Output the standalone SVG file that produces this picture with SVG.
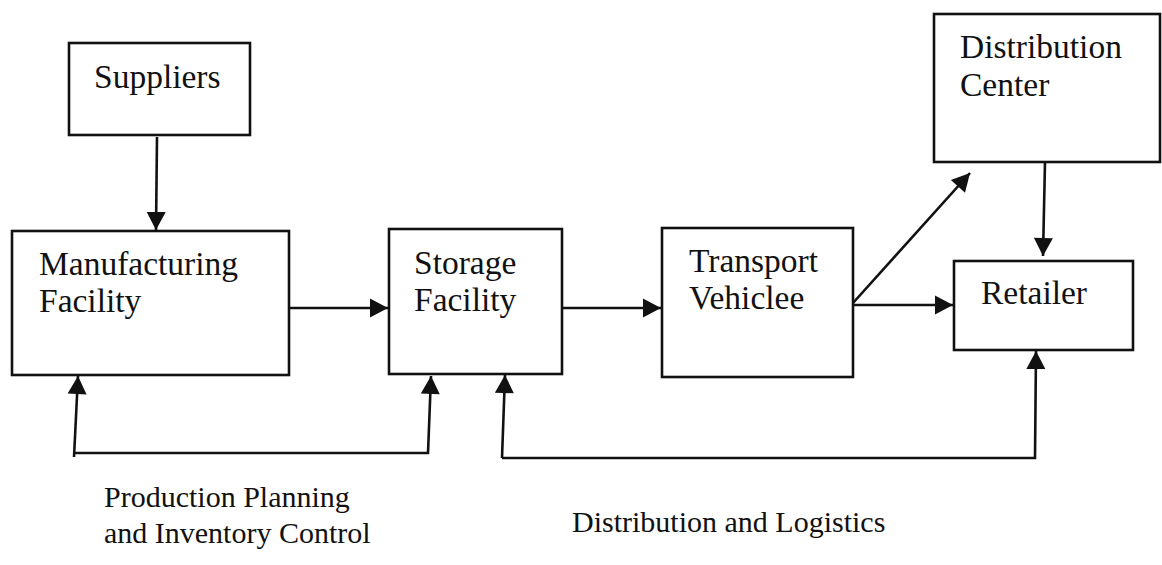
<svg xmlns="http://www.w3.org/2000/svg" width="1162" height="565" viewBox="0 0 1162 565">
<style>
.box{fill:#fff;stroke:#111;stroke-width:2.6}
.t{font-family:"Liberation Serif","Times New Roman",serif;font-size:33.5px;fill:#111}
.lb{font-family:"Liberation Serif","Times New Roman",serif;font-size:30px;fill:#111}
.c{fill:none;stroke:#111;stroke-width:2.6}
</style>
<defs>
<marker id="ah" markerUnits="userSpaceOnUse" markerWidth="20" markerHeight="20" viewBox="0 0 20 20" refX="19" refY="10" orient="auto">
<path d="M1,0.5 L19,10 L1,19.5 Z" fill="#111"/>
</marker>
</defs>
<rect width="1162" height="565" fill="#fff"/>
<g id="suppliers"><rect class="box" x="69" y="43" width="181" height="92"/><text class="t" x="94" y="88">Suppliers</text></g>
<g id="manufacturing"><rect class="box" x="12" y="231" width="277" height="144"/><text class="t" x="39" y="275">Manufacturing</text><text class="t" x="39" y="312">Facility</text></g>
<g id="storage"><rect class="box" x="389" y="229" width="173" height="145"/><text class="t" x="414" y="274">Storage</text><text class="t" x="414" y="311">Facility</text></g>
<g id="transport"><rect class="box" x="662" y="228" width="191" height="149"/><text class="t" x="689" y="272">Transport</text><text class="t" x="689" y="309">Vehiclee</text></g>
<g id="distribution-center"><rect class="box" x="934" y="14" width="226" height="148"/><text class="t" x="960" y="58">Distribution</text><text class="t" x="960" y="96">Center</text></g>
<g id="retailer"><rect class="box" x="954" y="261" width="179" height="89"/><text class="t" x="981" y="304">Retailer</text></g>
<g id="connectors">
<line class="c" x1="157" y1="137" x2="156" y2="230" marker-end="url(#ah)"/>
<line class="c" x1="289" y1="308" x2="388" y2="308" marker-end="url(#ah)"/>
<line class="c" x1="562" y1="308" x2="661" y2="308" marker-end="url(#ah)"/>
<line class="c" x1="853" y1="305" x2="953" y2="305" marker-end="url(#ah)"/>
<line class="c" x1="853" y1="303" x2="970" y2="173" marker-end="url(#ah)"/>
<line class="c" x1="1045" y1="162" x2="1043" y2="256" marker-end="url(#ah)"/>
<line class="c" x1="74" y1="457" x2="78" y2="376" marker-end="url(#ah)"/>
<polyline class="c" points="75,453 428,453 431,376" marker-end="url(#ah)"/>
<line class="c" x1="502" y1="458" x2="505" y2="375" marker-end="url(#ah)"/>
<polyline class="c" points="502,458 1035,458 1036,351" marker-end="url(#ah)"/>
</g>
<g id="labels">
<text class="lb" x="104" y="507">Production Planning</text>
<text class="lb" x="104" y="543">and Inventory Control</text>
<text class="lb" x="572" y="532">Distribution and Logistics</text>
</g>
</svg>
